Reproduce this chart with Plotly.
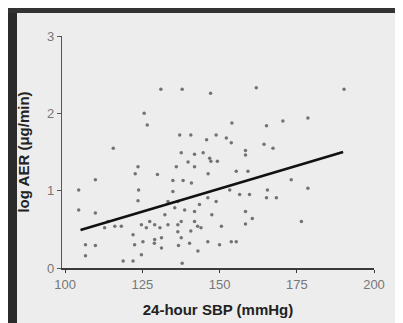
import plotly.graph_objects as go

# Scatter data: 24-hour SBP (mmHg) vs log AER (ug/min)
sbp = [131, 137.9, 147.1, 161.9, 190.3, 125.6, 126.6, 115.6, 154, 165.2,
       170.5, 178.6, 140.7, 137.1, 148.9, 152.2, 145.8, 153.8, 164.4, 158.4,
       167.3, 137.6, 141.9, 144.7, 146.8, 147.2, 149.3, 158.4, 139.8, 141.9,
       123.6, 136, 129.9, 146.3, 155.4, 159.2, 138.2, 134.9, 140.9, 109.8,
       122.7, 123.8, 104.4, 153.3, 165.5, 173.2, 178.6, 165.2, 168.4, 123.6,
       133.3, 136.5, 148.9, 146.2, 135.5, 138.7, 158.4, 160.6, 104.4, 109.8,
       176.5, 158.4, 150.6, 132.3, 129.0, 130.7, 133.3, 136.5, 137.6, 141.9,
       142.9, 144.0, 140.7, 136.5, 126.3, 124.7, 127.4, 116.1, 118.2, 122,
       131.2, 137.6, 146.2, 150, 153.8, 155.4, 128.9, 122.5, 106.6, 109.8,
       131.2, 136.7, 140.3, 143, 124.7, 106.6, 118.8, 122, 137.9, 112.8,
       113.9, 156.5, 159.7, 134.9, 141.9, 143.5, 147.5, 129, 125.2]
log_aer = [2.31, 2.31, 2.26, 2.33, 2.31, 2.0, 1.85, 1.55, 1.875, 1.84,
           1.9, 1.94, 1.72, 1.72, 1.72, 1.68, 1.66, 1.62, 1.6, 1.52,
           1.55, 1.49, 1.47, 1.49, 1.42, 1.38, 1.38, 1.46, 1.37, 1.31,
           1.31, 1.31, 1.21, 1.22, 1.25, 1.25, 1.13, 1.13, 1.10, 1.14,
           1.22, 1.01, 1.01, 1.01, 1.01, 1.14, 1.03, 0.91, 0.91, 0.87,
           0.86, 0.86, 0.86, 0.91, 0.78, 0.75, 0.73, 0.64, 0.75, 0.71,
           0.60, 0.57, 0.54, 0.69, 0.56, 0.52, 0.56, 0.56, 0.60, 0.60,
           0.54, 0.52, 0.48, 0.47, 0.52, 0.56, 0.60, 0.54, 0.54, 0.43,
           0.39, 0.39, 0.34, 0.30, 0.34, 0.34, 0.32, 0.30, 0.30, 0.29,
           0.26, 0.29, 0.32, 0.22, 0.17, 0.16, 0.09, 0.09, 0.06, 0.52,
           0.60, 0.95, 0.95, 0.99, 0.73, 0.82, 0.69, 0.37, 0.34]

# Regression line endpoints
fit_x = [105, 190]
fit_y = [0.49, 1.50]

x_ticks = [100, 125, 150, 175, 200]
x_tick_labels = ["100", "125", "150", "175", "200"]
y_ticks = [0, 1, 2, 3]
y_tick_labels = ["0", "1", "2", "3"]

W, H = 403, 323
ML, MR, MT, MB = 54, 37, 28, 63
PW, PH = W - ML - MR, H - MT - MB

fig = go.Figure()
fig.add_trace(go.Scatter(
    x=sbp, y=log_aer, mode="markers",
    marker=dict(size=3.5, color="#4a4a4a", opacity=0.75),
    showlegend=False, hoverinfo="skip"))
fig.add_trace(go.Scatter(
    x=fit_x, y=fit_y, mode="lines",
    line=dict(color="#111111", width=2.6),
    showlegend=False, hoverinfo="skip"))

def px_to_paper_x(px):
    return (px - ML) / PW

def px_to_paper_y(py):
    return (H - MB - py) / PH

bg = "#ededed"
fig.update_layout(
    width=W, height=H,
    margin=dict(l=ML, r=MR, t=MT, b=MB),
    paper_bgcolor=bg, plot_bgcolor=bg,
    font=dict(family="Liberation Sans, Arial, sans-serif"),
    shapes=[
        dict(type="rect", xref="paper", yref="paper", layer="above",
             x0=px_to_paper_x(0), x1=px_to_paper_x(9),
             y0=px_to_paper_y(H), y1=px_to_paper_y(0),
             fillcolor="#2b2b2b", line=dict(width=0)),
        dict(type="rect", xref="paper", yref="paper", layer="above",
             x0=px_to_paper_x(0), x1=px_to_paper_x(W),
             y0=px_to_paper_y(5), y1=px_to_paper_y(0),
             fillcolor="#333333", line=dict(width=0)),
    ],
)
fig.update_xaxes(
    range=[99, 200], tickvals=x_ticks, ticktext=x_tick_labels,
    showgrid=False, zeroline=False,
    showline=True, linecolor="#3a3a3a", linewidth=2,
    ticks="outside", ticklen=3, tickcolor="#3a3a3a", tickwidth=1,
    tickfont=dict(size=13, color="#777777"),
    title=dict(text="<b>24-hour SBP (mmHg)</b>", standoff=14,
               font=dict(size=15, color="#222222")),
)
fig.update_yaxes(
    range=[0, 3], tickvals=y_ticks, ticktext=y_tick_labels,
    showgrid=False, zeroline=False,
    showline=True, linecolor="#555555", linewidth=1.3,
    ticks="outside", ticklen=4, tickcolor="#555555", tickwidth=1,
    tickfont=dict(size=13, color="#777777"),
    title=dict(text="<b>log AER (\u03bcg/min)</b>", standoff=13,
               font=dict(size=15, color="#222222")),
)

fig.write_html("out.html")
